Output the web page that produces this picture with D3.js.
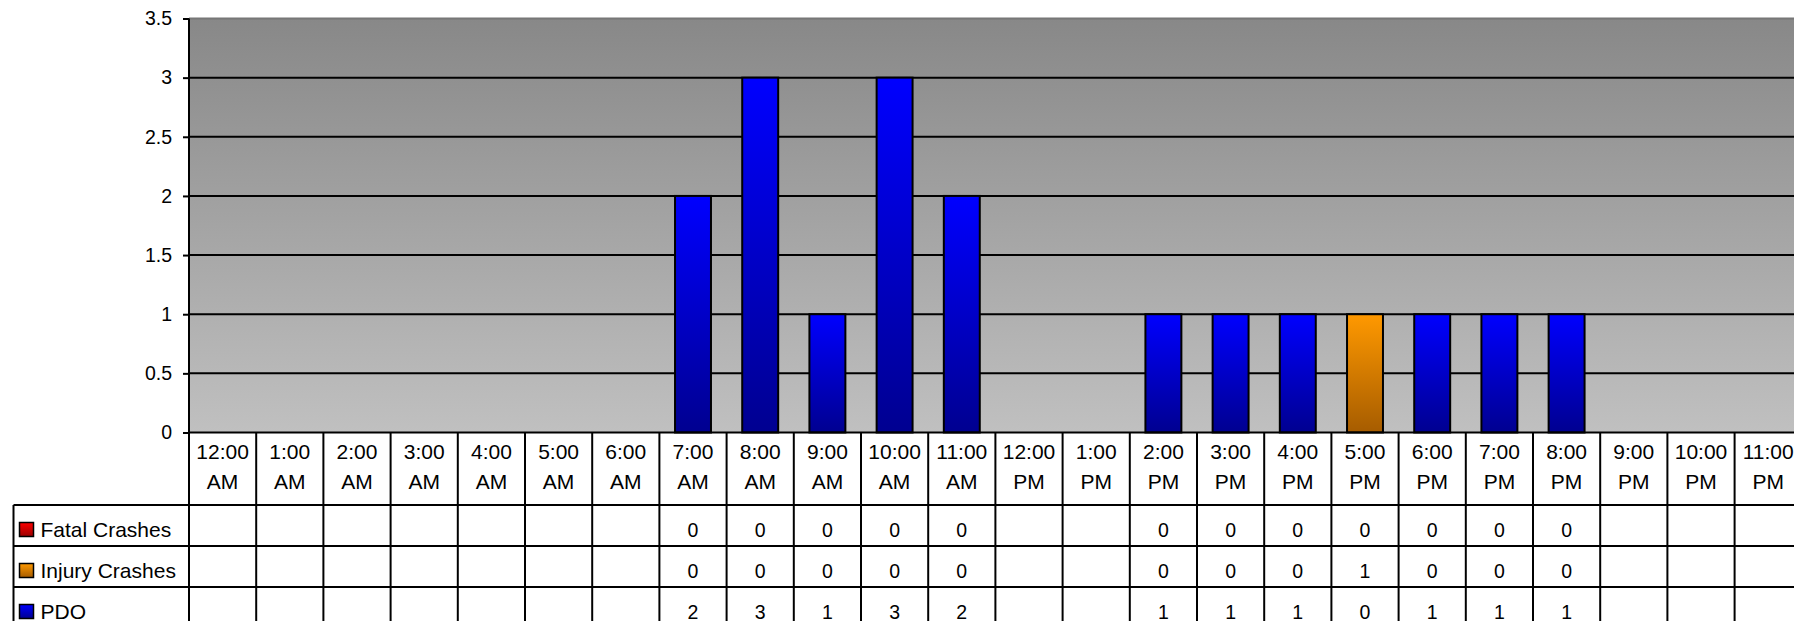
<!DOCTYPE html>
<html>
<head>
<meta charset="utf-8">
<script src="https://cdn.jsdelivr.net/npm/d3@7"></script>
<style>
  body { margin: 0; background: #fff; }
  svg { display: block; font-family: "Liberation Sans", Arial, sans-serif; }
</style>
</head>
<body>
<svg width="1794" height="621"></svg>
<script>
// crash counts by hour of day
var hours = ["12:00 AM","1:00 AM","2:00 AM","3:00 AM","4:00 AM","5:00 AM","6:00 AM","7:00 AM","8:00 AM","9:00 AM","10:00 AM","11:00 AM",
             "12:00 PM","1:00 PM","2:00 PM","3:00 PM","4:00 PM","5:00 PM","6:00 PM","7:00 PM","8:00 PM","9:00 PM","10:00 PM","11:00 PM"];
var fatal  = [null,null,null,null,null,null,null,0,0,0,0,0,null,null,0,0,0,0,0,0,0,null,null,null];
var injury = [null,null,null,null,null,null,null,0,0,0,0,0,null,null,0,0,0,1,0,0,0,null,null,null];
var pdo    = [null,null,null,null,null,null,null,2,3,1,3,2,null,null,1,1,1,0,1,1,1,null,null,null];
var seriesNames = ["Fatal Crashes","Injury Crashes","PDO"];
var yTicks = [0,0.5,1,1.5,2,2.5,3,3.5];

var svg = d3.select("svg"),
    plotLeft = 189,
    plotTop = 18.5,
    plotBottom = 432.5,
    step = 67.2;

var defs = svg.append("defs");
function grad(id, c1, c2) {
    var g = defs.append("linearGradient").attr("id", id)
        .attr("x1", 0).attr("y1", 0).attr("x2", 0).attr("y2", 1);
    g.append("stop").attr("offset", "0%").attr("stop-color", c1);
    g.append("stop").attr("offset", "100%").attr("stop-color", c2);
}
grad("bg", "#888888", "#c0c0c0");
grad("gFatal", "#ff0000", "#990000");
grad("gInjury", "#ff9900", "#a65c00");
grad("gPdo", "#0000ff", "#000090");
var fills = ["url(#gFatal)", "url(#gInjury)", "url(#gPdo)"];

var x = d3.scaleBand().domain(hours).range([plotLeft, plotLeft + step * hours.length]).paddingInner(0);
var y = d3.scaleLinear().domain([0, 3.5]).range([plotBottom, plotTop]);
var plotRight = x.range()[1];

// plot background
svg.append("rect")
   .attr("x", plotLeft).attr("y", plotTop)
   .attr("width", plotRight - plotLeft).attr("height", plotBottom - plotTop)
   .attr("fill", "url(#bg)");

// gridlines
svg.append("g").selectAll("line")
   .data(yTicks.filter(function(d) { return d > 0 && d < 3.5; }))
   .enter().append("line")
   .attr("x1", plotLeft).attr("x2", plotRight)
   .attr("y1", function(d) { return y(d); }).attr("y2", function(d) { return y(d); })
   .attr("stroke", "#000").attr("stroke-width", 2);

svg.append("line")
   .attr("x1", plotLeft).attr("x2", plotRight)
   .attr("y1", y(3.5)).attr("y2", y(3.5))
   .attr("stroke", "#777").attr("stroke-width", 2);

// stacked bars
var rows = hours.map(function(h, i) {
    return { hour: h, f: fatal[i] || 0, inj: injury[i] || 0, p: pdo[i] || 0 };
});
var stack = d3.stack().keys(["f", "inj", "p"])(rows);
var barW = step * 0.535;

svg.append("g").selectAll("g")
   .data(stack).enter().append("g")
   .attr("fill", function(d, i) { return fills[i]; })
   .selectAll("rect")
   .data(function(d) { return d.filter(function(s) { return s[1] - s[0] > 0; }); })
   .enter().append("rect")
   .attr("x", function(d) { return x(d.data.hour) + (step - barW) / 2; })
   .attr("y", function(d) { return y(d[1]); })
   .attr("width", barW)
   .attr("height", function(d) { return y(d[0]) - y(d[1]); })
   .attr("stroke", "#000").attr("stroke-width", 2);

// y axis
var yAxis = svg.append("g")
   .attr("transform", "translate(" + plotLeft + ",0)")
   .call(d3.axisLeft(y).tickValues(yTicks).tickSize(6).tickPadding(11).tickFormat(d3.format("")));
yAxis.select(".domain").attr("stroke", "#000").attr("stroke-width", 2).attr("d", "M0," + plotTop + "V" + plotBottom);
yAxis.selectAll(".tick line").attr("stroke", "#000").attr("stroke-width", 2);
yAxis.selectAll("text").attr("font-size", 19.5).attr("fill", "#000").attr("font-family", "Liberation Sans, Arial, sans-serif");

// data table
var rowTop = 505, rowH = 41, legLeft = 13.5, tableBottom = 640;
var tbl = svg.append("g");

// header cells (hour labels)
hours.forEach(function(h, i) {
    var parts = h.split(" ");
    var cx = x(h) + step / 2;
    tbl.append("text").attr("x", cx).attr("y", 459).attr("text-anchor", "middle")
       .attr("font-size", 21).text(parts[0]);
    tbl.append("text").attr("x", cx).attr("y", 489).attr("text-anchor", "middle")
       .attr("font-size", 21).text(parts[1]);
});

// table values
var tableData = [fatal, injury, pdo];
tableData.forEach(function(arr, r) {
    var by = rowTop + r * rowH + 31.5;
    arr.forEach(function(v, i) {
        if (v === null) return;
        tbl.append("text").attr("x", x(hours[i]) + step / 2).attr("y", by)
           .attr("text-anchor", "middle").attr("font-size", 19.5).text(v);
    });
    tbl.append("rect").attr("x", 19.5).attr("y", by - 14).attr("width", 14).attr("height", 14)
       .attr("fill", fills[r]).attr("stroke", "#000").attr("stroke-width", 1.5);
    tbl.append("text").attr("x", 40.5).attr("y", by).attr("font-size", 21).text(seriesNames[r]);
});

// table lines
var lines = tbl.append("g").attr("stroke", "#000").attr("stroke-width", 2);
lines.append("line").attr("x1", plotLeft).attr("x2", plotRight).attr("y1", plotBottom).attr("y2", plotBottom);
for (var r = 0; r < 3; r++) {
    var ly = rowTop + r * rowH;
    lines.append("line").attr("x1", legLeft).attr("x2", plotRight).attr("y1", ly).attr("y2", ly);
}
lines.append("line").attr("x1", legLeft).attr("x2", legLeft).attr("y1", rowTop).attr("y2", tableBottom);
hours.forEach(function(h) {
    lines.append("line").attr("x1", x(h)).attr("x2", x(h)).attr("y1", plotBottom).attr("y2", tableBottom);
});
</script>
</body>
</html>
